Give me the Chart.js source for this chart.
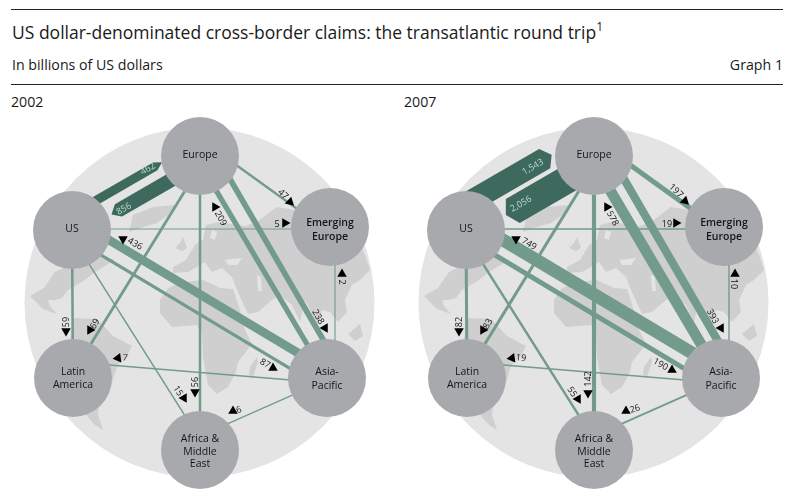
<!DOCTYPE html>
<html>
<head>
<meta charset="utf-8">
<script src="https://cdn.jsdelivr.net/npm/chart.js@4"></script>
<style>
  html, body { margin: 0; padding: 0; background: #fff; }
  body { width: 798px; height: 496px; position: relative; overflow: hidden; font-family: "Open Sans", sans-serif; color: #1a1a1a; }
  .rule { position: absolute; left: 11px; width: 772px; height: 1px; background: #222; }
  .text { position: absolute; white-space: nowrap; }
  .text sup { font-size: 12px; line-height: 0; position: relative; top: -1px; vertical-align: super; }
  canvas { position: absolute; top: 110px; }
</style>
</head>
<body>
<div class="rule" style="top:9px"></div>
<div class="text" style="left:12px;top:20px;font-size:17.5px;">US dollar-denominated cross-border claims: the transatlantic round trip<sup>1</sup></div>
<div class="text" style="left:12px;top:55px;font-size:14.2px;">In billions of US dollars</div>
<div class="text" style="right:15px;top:55px;font-size:14.2px;">Graph 1</div>
<div class="rule" style="top:84px"></div>
<div class="text" style="left:11px;top:92px;font-size:14.2px;">2002</div>
<div class="text" style="left:404px;top:92px;font-size:14.2px;">2007</div>
<canvas id="chart2002" width="394" height="386" style="left:0"></canvas>
<canvas id="chart2007" width="404" height="386" style="left:394px"></canvas>

<script>
// Regions, and where they sit on the globe (panel units, y runs down)
const nodeNames = ['Europe', 'US', 'Emerging Europe', 'Latin America', 'Asia-Pacific', 'Africa & Middle East'];
const nodeX = [200, 72, 330, 73, 327, 200];
const nodeY = [156, 230, 227, 378, 378, 450];
const nodeLines = [['Europe'], ['US'], ['Emerging', 'Europe'], ['Latin', 'America'], ['Asia-', 'Pacific'], ['Africa &', 'Middle', 'East']];
const nodeLineY = [[155], [229], [223, 237], [372, 385], [372, 386], [439, 452, 464]];

// Links between regions (index into nodeNames)
const edgeFrom = [0, 1, 0, 4, 1, 4, 1, 3, 0, 1, 3, 5, 2];
const edgeTo = [2, 2, 4, 0, 4, 1, 3, 0, 5, 5, 4, 4, 4];
const edgeShiftFrom = [-14, -1, -14.4, 0, -10.4, -10.9, 0, -2.6, 0, 3.8, -16, -12.8, -5];
const edgeShiftTo = [4.5, 2, -15.9, -3.6, -6.6, -6.6, 0, 5.4, 0, -5.6, 5, 1.5, -8];

const values2002 = [47, 5, 238, 209, 436, 87, 59, 69, 56, 15, 7, 6, 2];
const values2007 = [197, 19, 393, 578, 749, 190, 82, 83, 142, 55, 19, 26, 10];

// The two big transatlantic flows, US->Europe then Europe->US
const bigValues2002 = [462, 856];
const bigValues2007 = [1543, 2056];
const bigShift2002 = [-13.5, 6.3];
const bigShift2007 = [-22.4, 7];

// Arrow and value label spots, same order as the values
const arrowX2002 = [290, 285, 325, 215, 123, 273, 66, 90, 195, 184, 118, 233, 342];
const arrowY2002 = [202, 223, 328, 207, 239, 368, 331, 330, 392, 398, 358, 411, 274];
const labelX2002 = [283, 277, 318, 220.5, 135, 265, 66, 95, 195, 178, 125, 239, 342];
const labelY2002 = [194.5, 224, 317, 218.5, 244, 363.5, 322, 324, 382, 391, 358, 410, 282];
const arrowX2007 = [291, 282, 327, 213, 122, 278, 65, 89, 194, 184, 118, 232, 341];
const arrowY2007 = [201, 223, 328, 207, 239, 370, 331, 330, 393, 399, 358, 411, 274];
const labelX2007 = [282, 273, 318.5, 218.5, 135, 266.5, 65, 94, 194, 178, 127, 241, 340];
const labelY2007 = [191, 224, 316.5, 218.5, 244, 364.5, 322, 324, 379, 392, 358, 409, 284];
const arrowTurn = [133, 90, 150, -30, -60, 120, 180, 210, 180, 150, -97, 240, 0];
const labelTurn = [43, 0, 60, 60, 30, 30, -90, -60, -90, 58, 7, -18, 90];

const bigLabelX2002 = [148, 124];
const bigLabelY2002 = [169, 209];
const bigLabelX2007 = [139, 127];
const bigLabelY2007 = [167, 204];

// Map outlines
const globe = { x: 199.5, y: 302.5, r: 175 };
const greenland = [[133, 215], [153, 207], [175, 205], [168, 215], [157, 223], [140, 228], [129, 232]];
const northAmerica = [[44, 288], [55, 272], [75, 262], [100, 255], [115, 260], [95, 272], [82, 282], [68, 290], [62, 298], [55, 300], [48, 300], [50, 306], [57, 314], [43, 309], [37, 303], [30, 296]];
const southAmerica = [[73, 318], [97, 319], [113, 336], [132, 346], [127, 356], [117, 366], [112, 383], [100, 396], [98, 415], [103, 430], [95, 425], [87, 416], [80, 380], [70, 340]];
const africa = [[168, 288], [183, 282], [203, 280], [220, 288], [233, 289], [240, 310], [245, 330], [252, 344], [245, 353], [238, 362], [236, 372], [228, 387], [217, 394], [208, 385], [203, 357], [202, 333], [197, 325], [172, 327], [160, 313], [160, 300]];
const madagascar = [[257, 357], [258, 362], [253, 377], [249, 375], [250, 367]];
const eurasia = [[173, 267], [186, 260], [195, 245], [203, 240], [206, 225], [218, 222], [245, 226], [257, 222], [277, 207], [295, 210], [340, 200], [365, 255], [370, 270], [360, 280], [352, 285], [345, 300], [347, 312], [338, 322], [330, 312], [322, 310], [318, 325], [305, 300], [300, 322], [292, 305], [280, 295], [272, 300], [258, 312], [248, 314], [237, 290], [232, 277], [222, 268], [212, 272], [205, 262], [195, 268], [188, 272], [173, 273]];
const britain = [[183, 237], [187, 248], [182, 251], [175, 248], [180, 243]];
const indonesia = [[348, 334], [360, 324], [363, 336], [355, 341]];
const blackSea = [[225, 260], [242, 258], [237, 265], [228, 265]];
const caspian = [[257, 275], [261, 277], [262, 291], [258, 291]];
const baltic = [[212, 230], [217, 232], [215, 240], [210, 238]];

const GLOBE_COLOR = '#e4e4e4';
const LAND_COLOR = '#cfcfcf';
const EDGE_COLOR = '#729b8b';
const BIG_COLOR = '#3d6a5c';
const NODE_COLOR = '#a8a9ad';
const TEXT_COLOR = '#14141f';
const FONT = '"Open Sans", sans-serif';

function bandWidth(value) {
  return 1 + 0.06 * Math.pow(value, 0.8);
}

function polygonDataset(points, color, order) {
  const closed = points.concat([points[0]]).map(([x, y]) => ({ x, y }));
  return {
    data: closed, showLine: true, fill: 'shape', backgroundColor: color,
    borderWidth: 0, pointRadius: 0, tension: 0, order, clip: false
  };
}

function shifted(from, to, shiftFrom, shiftTo) {
  const dx = nodeX[to] - nodeX[from];
  const dy = nodeY[to] - nodeY[from];
  const len = Math.hypot(dx, dy);
  const px = -dy / len;
  const py = dx / len;
  return [
    { x: nodeX[from] + px * shiftFrom, y: nodeY[from] + py * shiftFrom },
    { x: nodeX[to] + px * shiftTo, y: nodeY[to] + py * shiftTo }
  ];
}

// Wide flow from the tail node, with a blunt head stopping short of the far node
function bigArrow(from, to, value, shift, stopShort) {
  const dx = nodeX[to] - nodeX[from];
  const dy = nodeY[to] - nodeY[from];
  const len = Math.hypot(dx, dy);
  const ux = dx / len, uy = dy / len;
  const px = -uy, py = ux;
  const half = bandWidth(value) / 2;
  const at = (along, side) => [nodeX[from] + ux * along + px * (shift + side), nodeY[from] + uy * along + py * (shift + side)];
  const end = len - stopShort;
  return [at(0, -half), at(end, -half), at(end + 8, 0), at(end, half), at(0, half)];
}

function drawPanel(canvasId, xMax, values, bigValues, bigShift, arrowX, arrowY, labelX, labelY, bigLabelX, bigLabelY) {
  const datasets = [];

  datasets.push({
    data: [{ x: globe.x, y: globe.y }], pointRadius: globe.r, backgroundColor: GLOBE_COLOR,
    borderWidth: 0, order: 50, clip: false
  });
  [greenland, northAmerica, southAmerica, africa, madagascar, eurasia, britain, indonesia].forEach((shape) => {
    datasets.push(polygonDataset(shape, LAND_COLOR, 40));
  });
  [blackSea, caspian, baltic].forEach((shape) => {
    datasets.push(polygonDataset(shape, GLOBE_COLOR, 39));
  });

  values.forEach((value, i) => {
    datasets.push({
      data: shifted(edgeFrom[i], edgeTo[i], edgeShiftFrom[i], edgeShiftTo[i]),
      showLine: true, borderColor: EDGE_COLOR, borderWidth: bandWidth(value),
      borderCapStyle: 'butt', pointRadius: 0, order: 30, clip: false
    });
  });

  // 1 is US, 0 is Europe
  datasets.push(polygonDataset(bigArrow(1, 0, bigValues[0], bigShift[0], 44), BIG_COLOR, 25));
  datasets.push(polygonDataset(bigArrow(0, 1, bigValues[1], -bigShift[1], 50), BIG_COLOR, 25));

  datasets.push({
    data: nodeX.map((x, i) => ({ x, y: nodeY[i] })),
    pointRadius: 39, backgroundColor: NODE_COLOR, borderWidth: 0, order: 10, clip: false
  });

  datasets.push({
    data: arrowX.map((x, i) => ({ x, y: arrowY[i] })),
    pointStyle: 'triangle', pointRadius: 5.5, rotation: arrowTurn,
    backgroundColor: '#000', borderWidth: 0, order: 5, clip: false
  });

  const textPlugin = {
    id: 'panelText',
    afterDatasetsDraw(chart) {
      const { ctx, scales: { x, y } } = chart;
      ctx.save();
      ctx.textAlign = 'center';
      ctx.textBaseline = 'middle';

      const put = (text, px, py, turn) => {
        ctx.save();
        ctx.translate(x.getPixelForValue(px), y.getPixelForValue(py));
        ctx.rotate(turn * Math.PI / 180);
        ctx.fillText(text, 0, 0);
        ctx.restore();
      };

      ctx.font = '9px ' + FONT;
      ctx.fillStyle = TEXT_COLOR;
      values.forEach((value, i) => put(String(value), labelX[i], labelY[i], labelTurn[i]));

      ctx.fillStyle = '#bcdcd6';
      bigValues.forEach((value, i) => put(value.toLocaleString('en-US'), bigLabelX[i], bigLabelY[i], -30));

      ctx.fillStyle = TEXT_COLOR;
      nodeLines.forEach((lines, n) => {
        // Emerging Europe comes out heavier in the original
        ctx.font = (n === 2 ? '600 ' : '') + '10.5px ' + FONT;
        lines.forEach((line, k) => put(line, nodeX[n], nodeLineY[n][k], 0));
      });
      ctx.restore();
    }
  };

  return new Chart(document.getElementById(canvasId), {
    type: 'scatter',
    data: { datasets },
    plugins: [textPlugin],
    options: {
      responsive: false,
      animation: false,
      events: [],
      layout: { padding: 0, autoPadding: false },
      plugins: { legend: { display: false }, tooltip: { enabled: false } },
      scales: {
        x: { type: 'linear', display: false, min: 0, max: xMax },
        y: { type: 'linear', display: false, min: 110, max: 496, reverse: true }
      }
    }
  });
}

drawPanel('chart2002', 394, values2002, bigValues2002, bigShift2002, arrowX2002, arrowY2002, labelX2002, labelY2002, bigLabelX2002, bigLabelY2002);
drawPanel('chart2007', 404, values2007, bigValues2007, bigShift2007, arrowX2007, arrowY2007, labelX2007, labelY2007, bigLabelX2007, bigLabelY2007);
</script>
</body>
</html>
